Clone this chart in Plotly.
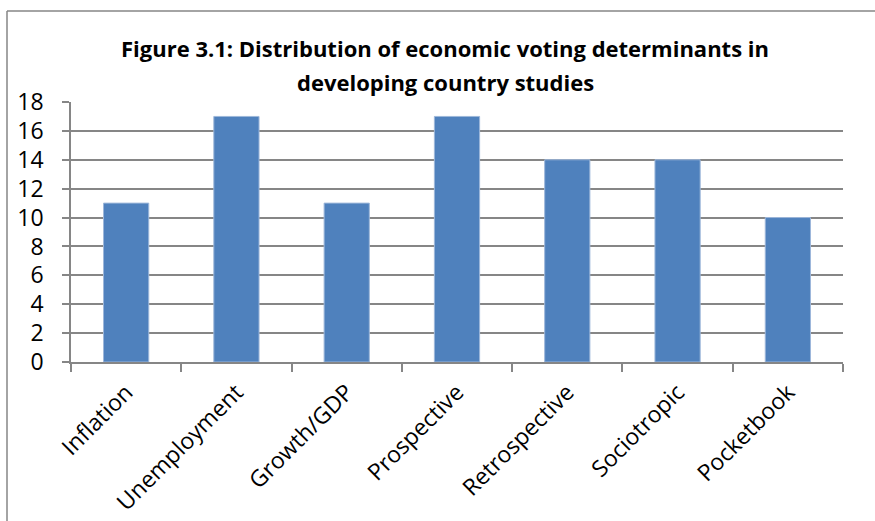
import plotly.graph_objects as go

categories = ["Inflation", "Unemployment", "Growth/GDP", "Prospective",
              "Retrospective", "Sociotropic", "Pocketbook"]
values = [11, 17, 11, 17, 14, 14, 10]
y_ticks = list(range(0, 19, 2))
title_lines = ["Figure 3.1: Distribution of economic voting determinants in",
               "developing country studies"]

FONT = "Open Sans"
T, B = 102, 362  # plot top/bottom pixels


def py(p):
    return 1 + (T - p) / (B - T)


fig = go.Figure(go.Bar(
    x=categories, y=values,
    marker=dict(color="#4F81BD", line=dict(color="#9DB7DA", width=1)),
))

fig.update_layout(
    width=875, height=521,
    margin=dict(l=71, r=32, t=T, b=521 - B),
    paper_bgcolor="white", plot_bgcolor="white",
    bargap=0.59,
    showlegend=False,
    font=dict(family=FONT, color="black"),
)

for txt, ypix in zip(title_lines, [48, 82]):
    fig.add_annotation(text="<b>" + txt + "</b>", xref="paper", yref="paper",
                       x=(445 - 71) / 772, y=py(ypix), xanchor="center", yanchor="middle",
                       showarrow=False, font=dict(family=FONT, size=22, color="black"))

fig.update_xaxes(
    type="category",
    tickson="boundaries",
    ticks="outside", ticklen=8, tickcolor="#868686", tickwidth=1.5,
    showline=True, linecolor="#868686", linewidth=1.5,
    tickangle=-45,
    tickfont=dict(family=FONT, size=23, color="black"),
    showgrid=False, automargin=False,
    ticklabelstandoff=6,
)
fig.update_yaxes(
    range=[0, 18],
    tickvals=y_ticks,
    ticks="outside", ticklen=7, tickcolor="#868686", tickwidth=1.5,
    showline=True, linecolor="#868686", linewidth=1.5,
    showgrid=True, gridcolor="#868686", gridwidth=1.5,
    tickfont=dict(family=FONT, size=23, color="black"),
    zeroline=False, automargin=False,
    ticklabelstandoff=14,
)

# outer chart border (left and top edges visible)
fig.add_shape(type="line", xref="paper", yref="paper",
              x0=(7 - 71) / 772, x1=(7 - 71) / 772,
              y0=py(11), y1=-1,
              line=dict(color="#868686", width=1.5))
fig.add_shape(type="line", xref="paper", yref="paper",
              x0=(7 - 71) / 772, x1=2,
              y0=py(11), y1=py(11),
              line=dict(color="#868686", width=1.5))

fig.write_html("out.html")
